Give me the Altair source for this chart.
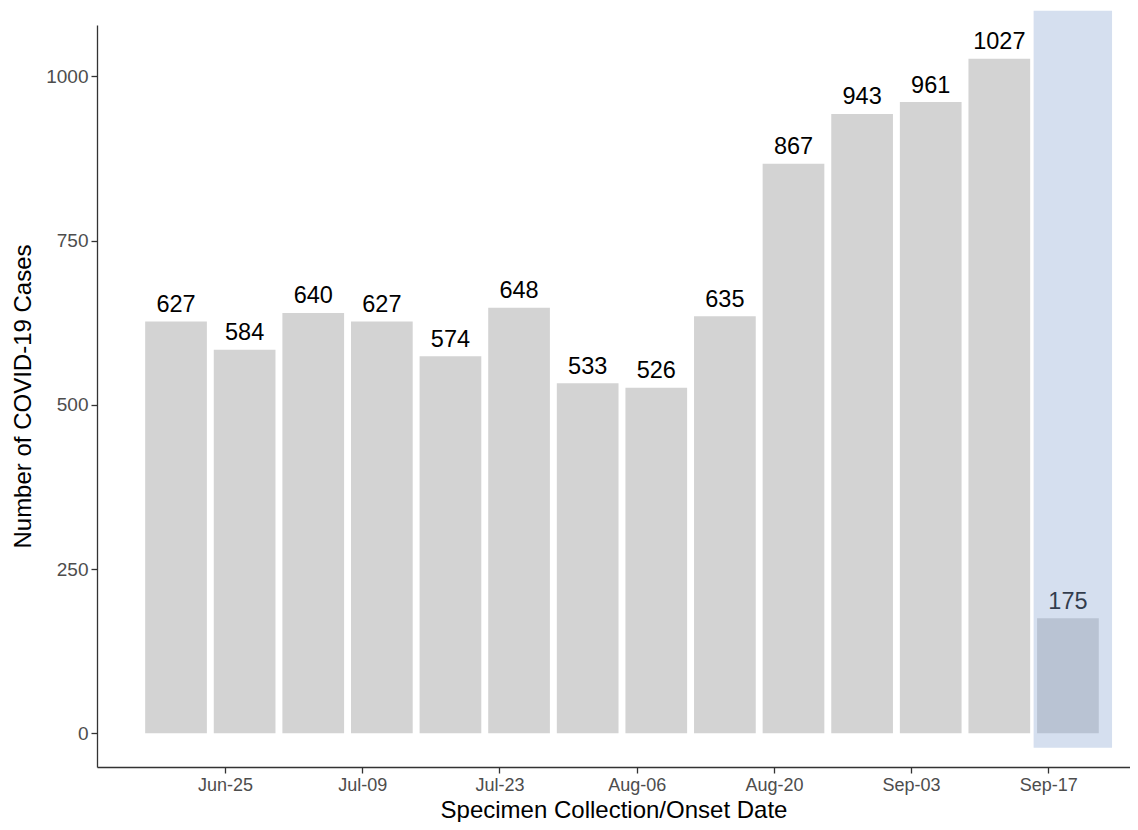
import altair as alt
import pandas as pd

week_dates = ["2020-06-20", "2020-06-27", "2020-07-04", "2020-07-11", "2020-07-18",
              "2020-07-25", "2020-08-01", "2020-08-08", "2020-08-15", "2020-08-22",
              "2020-08-29", "2020-09-05", "2020-09-12", "2020-09-19"]
cases = [627, 584, 640, 627, 574, 648, 533, 526, 635, 867, 943, 961, 1027, 175]

tick_dates = [(2020, 6, 25), (2020, 7, 9), (2020, 7, 23), (2020, 8, 6),
              (2020, 8, 20), (2020, 9, 3), (2020, 9, 17)]
y_ticks = [0, 250, 500, 750, 1000]

shade_start = ["2020-09-15T12:00:00Z"]
shade_end = ["2020-09-23T12:00:00Z"]
shade_low = [-22]
shade_high = [1100]

df = pd.DataFrame({"date": week_dates, "cases": cases})
shade = pd.DataFrame({"xs": shade_start, "xe": shade_end, "y0": shade_low, "y1": shade_high})

FONT = "Liberation Sans"

xscale = alt.Scale(type="utc", padding=0, nice=False,
                   domain=[alt.DateTime(year=2020, month=6, date=11, hours=22, minutes=30, utc=True),
                           alt.DateTime(year=2020, month=9, date=25, hours=8, utc=True)])
yscale = alt.Scale(domain=[-51.35, 1078.35], nice=False, zero=False, padding=0)

xaxis = alt.Axis(values=[alt.DateTime(year=y, month=m, date=d, utc=True) for y, m, d in tick_dates],
                 labelExpr="utcFormat(datum.value, '%b-%d')",
                 title="Specimen Collection/Onset Date")
yaxis = alt.Axis(values=y_ticks, format="d", title="Number of COVID-19 Cases")

base = alt.Chart(df)

bars = base.mark_bar(color="#D3D3D3", width=61.7).encode(
    x=alt.X("date:T", scale=xscale, axis=xaxis),
    y=alt.Y("cases:Q", scale=yscale, axis=yaxis),
)

labels = base.mark_text(baseline="alphabetic", dy=-9.5, fontSize=23.5, font=FONT, color="black").encode(
    x=alt.X("date:T", scale=xscale),
    y=alt.Y("cases:Q", scale=yscale),
    text=alt.Text("cases:Q"),
)

rect = alt.Chart(shade).mark_rect(color="#8AA7D3", opacity=0.36, clip=False).encode(
    x=alt.X("xs:T", scale=xscale),
    x2="xe:T",
    y=alt.Y("y0:Q", scale=yscale),
    y2="y1:Q",
)

chart = alt.layer(bars, labels, rect).properties(
    width=1033, height=742,
    autosize=alt.AutoSizeParams(type="none"),
    padding={"left": 89, "top": 17, "right": 0, "bottom": 55},
).configure_view(stroke=None).configure_axis(
    grid=False,
    domainColor="#333333", domainWidth=1.3,
    tickColor="#333333", tickWidth=1.3, tickSize=6,
    labelColor="#4D4D4D", labelFont=FONT,
    titleFont=FONT, titleFontWeight="normal", titleColor="black",
).configure_axisY(labelPadding=3, labelFontSize=19, titlePadding=10, titleFontSize=24).configure_axisX(
    labelPadding=3, labelFontSize=18, titleFontSize=24, titleBaseline="alphabetic", titleY=50)

chart.save("out.html", embed_options={"renderer": "svg", "actions": False})
